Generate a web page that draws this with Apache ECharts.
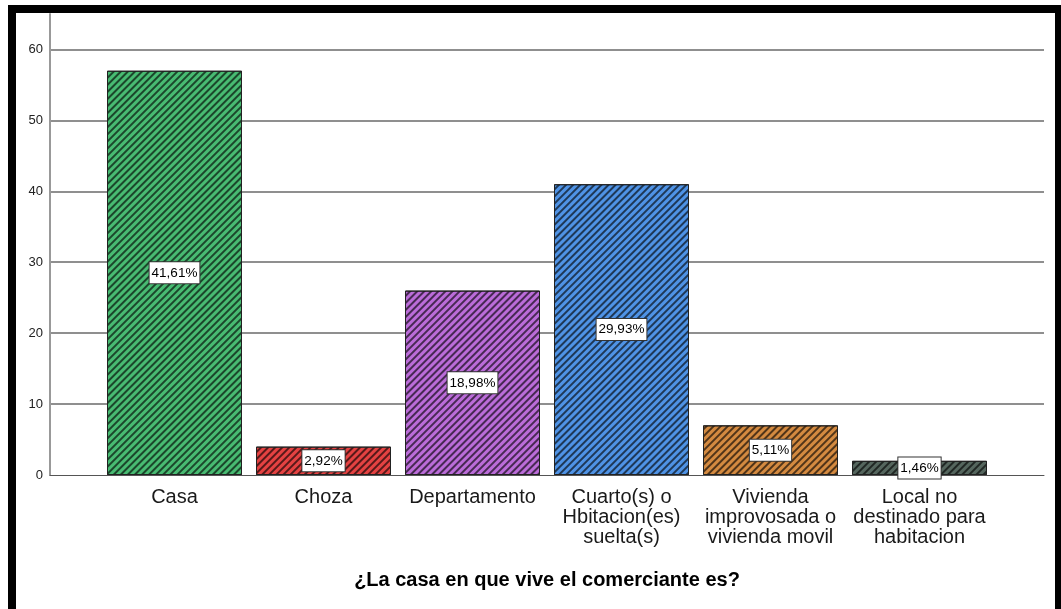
<!DOCTYPE html>
<html>
<head>
<meta charset="utf-8">
<script src="https://cdn.jsdelivr.net/npm/echarts@6/dist/echarts.min.js"></script>
<style>
  html, body { margin: 0; padding: 0; background: #fff; overflow: hidden; }
  #chart { width: 1061px; height: 609px; }
  #frame { position: absolute; left: 8px; top: 5px; width: 1039px; height: 598px;
           border: 8px solid #000; pointer-events: none; }
</style>
</head>
<body>
<div id="chart"></div>
<div id="frame"></div>
<script>
// categorias y frecuencias
const categories = [
  "Casa",
  "Choza",
  "Departamento",
  "Cuarto(s) o\nHbitacion(es)\nsuelta(s)",
  "Vivienda\nimprovosada o\nvivienda movil",
  "Local no\ndestinado para\nhabitacion",
]
const counts = [57, 4, 26, 41, 7, 2]
const percentLabels = ["41,61%", "2,92%", "18,98%", "29,93%", "5,11%", "1,46%"]
const barColors = ["#48bb72", "#e54242", "#bb6cd9", "#4f93e6", "#d48a40", "#55665e"]
const yTicks = [0, 10, 20, 30, 40, 50, 60]

const font = "Liberation Sans, Arial, sans-serif"
const chart = echarts.init(document.getElementById("chart"))

// rayado diagonal tipo SPSS
const hatch = {
  symbol: "rect",
  symbolSize: 1,
  color: "rgba(0,0,0,0.62)",
  dashArrayX: [1, 0],
  dashArrayY: [1.2, 2.4],
  rotation: -Math.PI / 4,
}

const option = {
  backgroundColor: "#fff",
  animation: false,
  grid: [
    { left: 50, right: 17, top: 14, bottom: 134 },
    { left: 100, right: 67, top: 14, bottom: 134 },
  ],
  xAxis: [
    {
      gridIndex: 0,
      type: "value",
      min: 0,
      max: 1,
      axisLine: { show: true, lineStyle: { color: "#555", width: 1 } },
      axisTick: { show: false },
      axisLabel: { show: false },
      splitLine: { show: false },
      name: "¿La casa en que vive el comerciante es?",
      nameLocation: "middle",
      nameGap: 95,
      nameTextStyle: { fontFamily: font, fontSize: 20, fontWeight: "bold", color: "#000" },
    },
    {
      gridIndex: 1,
      type: "category",
      data: categories,
      axisLine: { show: false },
      axisTick: { show: false },
      axisLabel: {
        interval: 0,
        margin: 12,
        fontFamily: font,
        fontSize: 20,
        lineHeight: 20,
        color: "#1a1a1a",
      },
    },
  ],
  yAxis: [
    {
      gridIndex: 0,
      type: "value",
      min: 0,
      max: 65,
      interval: 10,
      axisLine: { show: true, lineStyle: { color: "#999", width: 2 } },
      axisTick: { show: false },
      axisLabel: {
        fontFamily: font,
        fontSize: 13,
        color: "#222",
        margin: 7,
        formatter: (v) => (yTicks.includes(v) ? String(v) : ""),
      },
      splitLine: { show: true, showMaxLine: false, showMinLine: false, lineStyle: { color: "#6a6a6a", width: 1.5 } },
    },
    {
      gridIndex: 1,
      type: "value",
      min: 0,
      max: 65,
      show: false,
    },
  ],
  series: [
    {
      type: "bar",
      xAxisIndex: 1,
      yAxisIndex: 1,
      barWidth: 135,
      data: counts.map((v, i) => ({
        value: v,
        itemStyle: {
          color: barColors[i],
          borderColor: "#222",
          borderWidth: 1,
          decal: hatch,
        },
      })),
      label: {
        show: true,
        position: "inside",
        formatter: (p) => percentLabels[p.dataIndex],
        fontFamily: font,
        fontSize: 13.5,
        color: "#000",
        backgroundColor: "#fff",
        borderColor: "#333",
        borderWidth: 1,
        padding: [4, 2, 3, 2],
      },
    },
  ],
}

chart.setOption(option)
</script>
</body>
</html>
